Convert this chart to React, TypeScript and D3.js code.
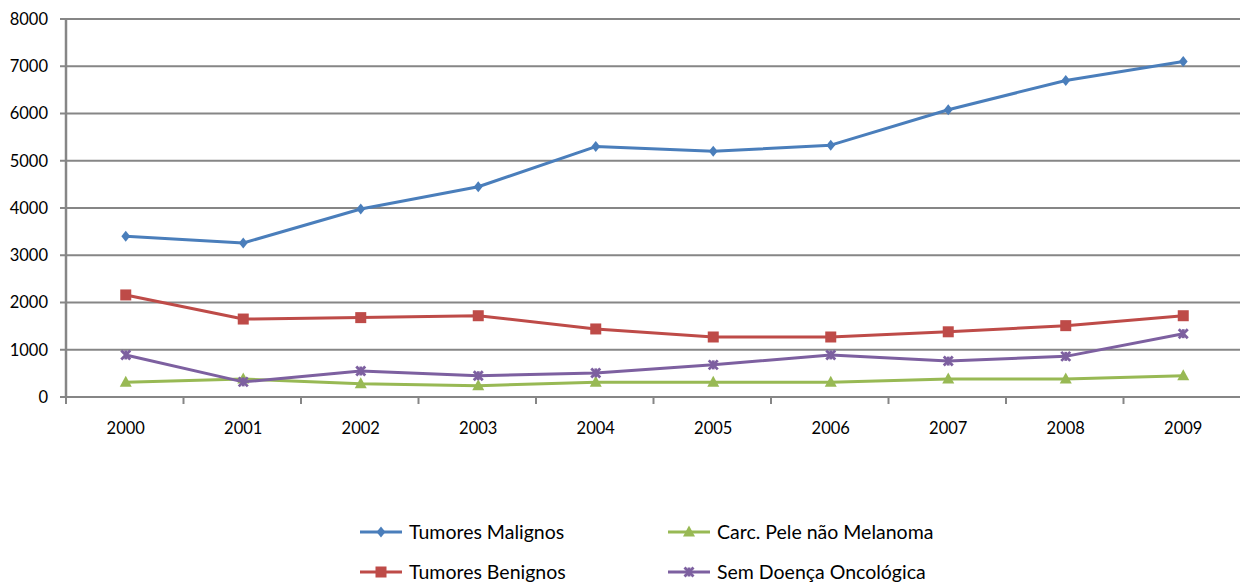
import React from "react";
import * as d3 from "d3";

const years = ["2000","2001","2002","2003","2004","2005","2006","2007","2008","2009"];
const malignos = [3400,3260,3980,4450,5300,5200,5330,6080,6700,7100];
const benignos = [2160,1650,1680,1720,1440,1270,1270,1380,1510,1720];
const carcPele = [310,380,280,240,310,310,310,380,380,450];
const semDoenca = [890,320,550,450,510,680,890,760,860,1340];
const yTicks = [0,1000,2000,3000,4000,5000,6000,7000,8000];

const series = [
  { name: "Tumores Malignos", values: malignos, color: "#4A7EBB", marker: "diamond" },
  { name: "Tumores Benignos", values: benignos, color: "#BE4B48", marker: "square" },
  { name: "Carc. Pele não  Melanoma", values: carcPele, color: "#98B954", marker: "triangle" },
  { name: "Sem Doença Oncológica", values: semDoenca, color: "#7D60A0", marker: "star" },
];

const W = 1240, H = 583;
const left = 66, right = 1241, top = 19, bottom = 397;
const font = "Lato, 'Open Sans', sans-serif";

function Marker({ type, x, y, color }: { type: string; x: number; y: number; color: string }) {
  if (type === "diamond") {
    const s = 5.5;
    return <path d={`M${x},${y - s}L${x + s * 0.8},${y}L${x},${y + s}L${x - s * 0.8},${y}Z`} fill={color} />;
  }
  if (type === "square") {
    return <rect x={x - 5.5} y={y - 5.5} width={11} height={11} fill={color} />;
  }
  if (type === "triangle") {
    return <path d={`M${x},${y - 6.5}L${x + 6},${y + 4.5}L${x - 6},${y + 4.5}Z`} fill={color} />;
  }
  const s = 4.5;
  return (
    <g stroke={color} strokeWidth={2.8}>
      <line x1={x - s} y1={y - s} x2={x + s} y2={y + s} />
      <line x1={x - s} y1={y + s} x2={x + s} y2={y - s} />
      <line x1={x} y1={y - s} x2={x} y2={y + s} />
    </g>
  );
}

export default function App() {
  const x = d3.scaleBand<string>().domain(years).range([left, right]);
  const y = d3.scaleLinear().domain([0, 8000]).range([bottom, top]);
  const cx = (i: number) => (x(years[i]) as number) + x.bandwidth() / 2 + 1;
  const line = d3.line<number>()
    .x((_, i) => cx(i))
    .y((v) => y(v));
  const grid = "#868686";
  const boundaries = years.map((yr) => x(yr) as number).concat([right]);

  const legendPos = [
    { lx: 360, ly: 532 },
    { lx: 360, ly: 572 },
    { lx: 668, ly: 532 },
    { lx: 668, ly: 572 },
  ];

  return (
    <svg width={W} height={H} style={{ position: "absolute", left: 0, top: 0, background: "#fff" }}>
      {yTicks.map((t) => (
        <g key={t}>
          <line x1={left - 6} x2={right} y1={y(t)} y2={y(t)} stroke={grid} strokeWidth={2.2} />
          <text x={48} y={y(t)} dy="0.35em" textAnchor="end" fontFamily={font} fontSize={16.5} fill="#000">{t}</text>
        </g>
      ))}
      <line x1={left} x2={left} y1={top - 1} y2={bottom + 1} stroke={grid} strokeWidth={2.5} />
      {boundaries.map((b, i) => (
        <line key={i} x1={b} x2={b} y1={bottom} y2={bottom + 7} stroke={grid} strokeWidth={2} />
      ))}
      {years.map((yr, i) => (
        <text key={yr} x={cx(i)} y={428} dy="0.35em" textAnchor="middle" fontFamily={font} fontSize={16.5} fill="#000">{yr}</text>
      ))}
      {series.map((s) => (
        <g key={s.name}>
          <path d={line(s.values) || ""} fill="none" stroke={s.color} strokeWidth={3} strokeLinejoin="round" />
          {s.values.map((v, i) => (
            <Marker key={i} type={s.marker} x={cx(i)} y={y(v)} color={s.color} />
          ))}
        </g>
      ))}
      {series.map((s, i) => {
        const p = legendPos[i];
        return (
          <g key={s.name}>
            <line x1={p.lx} x2={p.lx + 42} y1={p.ly} y2={p.ly} stroke={s.color} strokeWidth={3} />
            <Marker type={s.marker} x={p.lx + 21} y={p.ly} color={s.color} />
            <text x={p.lx + 49} y={p.ly} dy="0.35em" fontFamily={font} fontSize={19.5} fill="#000">{s.name}</text>
          </g>
        );
      })}
    </svg>
  );
}
